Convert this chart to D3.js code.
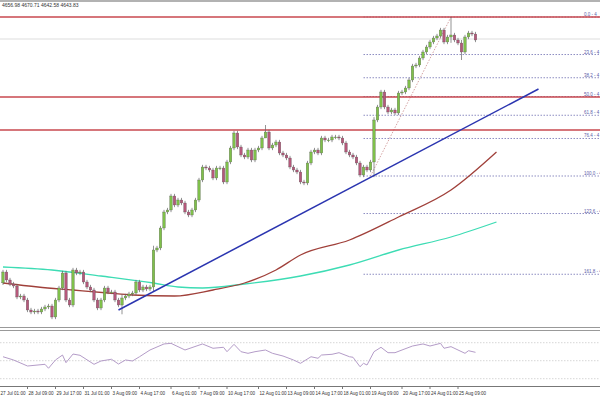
<!DOCTYPE html>
<html>
<head>
<meta charset="utf-8">
<script src="https://cdn.jsdelivr.net/npm/d3@7"></script>
<style>
  body { margin: 0; background: #fff; }
  svg { display: block; font-family: "Liberation Sans", sans-serif; }
</style>
</head>
<body>
<svg id="chart" width="600" height="400"></svg>
<script>
// closes per bar (open = previous close)
const closes = [4491.6,4486,4483.2,4481.8,4474.1,4474.8,4472,4465,4463.6,4464.3,4463.6,4465.7,4467.1,4467.8,4460.1,4472,4480.4,4490.9,4472,4468.5,
  4493,4490.9,4491.6,4484.6,4481.1,4479,4472,4466.4,4472,4480.4,4477.6,4477.6,4472,4468.5,4473.4,4474.8,4476.2,4476.9,4484.6,4479,
  4481.1,4479.7,4481.1,4507,4508.4,4522.4,4533.6,4535,4544.8,4538.5,4542,4539.9,4533.6,4531.5,4535,4542,4556,4565.1,4564.4,4563,
  4557.4,4564.4,4564.4,4554.6,4568.6,4578.4,4588.9,4579.1,4573.5,4572.1,4577,4570,4577,4578.4,4585.4,4589.6,4578.4,4580.5,4582.6,4574.9,
  4573.5,4571.4,4565.1,4563,4561.6,4554.6,4553.9,4567.9,4575.6,4577,4574.9,4585.4,4584,4584,4586.1,4586.1,4585.4,4581.9,4575.6,4573.5,
  4572.1,4567.9,4559.5,4565.1,4563,4568.6,4598,4607.1,4617.6,4607.1,4603.6,4605,4602.9,4616.9,4617.6,4620.4,4626,4635.8,4636.5,4641.4,
  4645.6,4649.1,4652.6,4655.4,4656.8,4661,4652.6,4656.1,4657.5,4654,4651.9,4645.6,4656.1,4658.9,4658.2,4654];
const firstOpen = 4484;
// bars with notable wicks: [index, high, low]
const bigWicks = [[75, 4594.5, 4586], [43, 4510, 4478], [106, 4600, 4558], [128, 4670.1, 4652], [131, 4654, 4640], [34, 4476, 4462]];

// moving averages, [bar index, value]
const maRed = [[0,4483.9],[10,4481.1],[20,4479],[30,4476.9],[37,4475.5],[49,4474.8],[60,4479],[69,4483.9],[78,4493],[85,4503.5],[99,4514],[113,4530.1],[128,4549],[141,4575.6]];
const maTeal = [[0,4495.1],[14,4493],[28,4488.8],[43,4483.9],[50,4481.1],[57,4480.4],[69,4483.2],[85,4488.8],[99,4496.5],[113,4507],[128,4516.1],[141,4526.6]];

const trendLine = [[33, 4465], [153, 4619.7]];
const fibSwing = [[105, 4558.8], [128, 4670.1]];
const resistLevels = [4670.1, 4614.1, 4591];
const lastPrice = 4654.7;
const fibLevels = ["0.0", "23.6", "38.2", "50.0", "61.8", "76.4", "100.0", "123.6", "161.8"];
const fibRatios = [0, 0.236, 0.382, 0.5, 0.618, 0.764, 1, 1.236, 1.618];

const rsi = [[0,54.4],[3,50.8],[7,44.1],[12,46],[13,41.6],[15,50.8],[17,56.3],[18,47.8],[20,57.4],[22,56],[26,46],[28,49.7],[31,51.6],[33,46.3],
  [35,50.8],[37,49.7],[39,54.4],[42,61.9],[46,68.6],[48,69.3],[52,61.9],[57,68.6],[60,63.8],[63,64.9],[64,60],[66,68.2],[68,60],[70,58.2],
  [72,60],[75,61.9],[77,58.2],[80,55.2],[83,50.8],[85,47.1],[88,54.4],[90,52.7],[91,56.3],[94,57.1],[96,58.9],[99,54.4],[100,53.8],[102,43.3],
  [103,47.1],[104,45.2],[106,60],[108,64.9],[110,58.9],[112,58.9],[114,61.9],[117,66.3],[120,68.6],[122,66.3],[125,69.3],[126,63.8],[128,65.6],
  [132,58.2],[133,61.1],[135,59.3]];
const rsiLevels = [70, 50, 30];

const tickIdx = [-1,7,15,23,31,39,48,56,64,73,81,89,97,105,114,122,130];
const tickLabels = ["27 Jul 01:00","28 Jul 09:00","29 Jul 17:00","31 Jul 01:00","3 Aug 09:00","4 Aug 17:00","6 Aug 01:00","7 Aug 09:00",
  "10 Aug 17:00","12 Aug 01:00","13 Aug 09:00","14 Aug 17:00","18 Aug 01:00","19 Aug 09:00","20 Aug 17:00","24 Aug 01:00","25 Aug 09:00"];

const svg = d3.select("#chart");
const x = d3.scaleLinear().domain([0, 170]).range([3, 598]);
const y = d3.scaleLinear().domain([4453.1, 4678.5]).range([327, 5]);
const yR = d3.scaleLinear().domain([30, 70]).range([378.7, 342.7]);

// panel frames
svg.append("line").attr("x1", 0).attr("x2", 600).attr("y1", 1).attr("y2", 1).attr("stroke", "#999").attr("stroke-width", 1.5);
svg.append("line").attr("x1", 0).attr("x2", 600).attr("y1", 327.5).attr("y2", 327.5).attr("stroke", "#999");
svg.append("line").attr("x1", 0).attr("x2", 600).attr("y1", 330.5).attr("y2", 330.5).attr("stroke", "#999");
svg.append("line").attr("x1", 0).attr("x2", 600).attr("y1", 386.5).attr("y2", 386.5).attr("stroke", "#777");

svg.append("text").attr("x", 2).attr("y", 7).attr("font-size", 5).attr("fill", "#333")
  .text("4656.98 4670.71 4642.58 4643.83");

// current price line
svg.append("line").attr("x1", 0).attr("x2", 600).attr("y1", y(lastPrice)).attr("y2", y(lastPrice))
  .attr("stroke", "#ddd");

// fib levels
const fHi = fibSwing[1][1], fLo = fibSwing[0][1];
fibRatios.forEach((r, k) => {
  const yy = y(fHi - r * (fHi - fLo));
  svg.append("line").attr("x1", x(fibSwing[0][0] - 2)).attr("x2", 600).attr("y1", yy).attr("y2", yy)
    .attr("stroke", "#5b5ba8").attr("stroke-width", 0.7).attr("stroke-dasharray", "1.5,1.5");
  svg.append("text").attr("x", 584).attr("y", yy - 1).attr("font-size", 4.5).attr("fill", "#5b5ba8")
    .text(fibLevels[k] + " - 4");
});
svg.append("line").attr("x1", x(fibSwing[0][0])).attr("y1", y(fLo)).attr("x2", x(fibSwing[1][0])).attr("y2", y(fHi))
  .attr("stroke", "#c98a8a").attr("stroke-width", 0.8).attr("stroke-dasharray", "1.5,1.5");

// resistance lines
resistLevels.forEach(p => {
  svg.append("line").attr("x1", 0).attr("x2", 600).attr("y1", y(p)).attr("y2", y(p))
    .attr("stroke", "#c8484f").attr("stroke-width", 1.3);
});

// moving averages
const maLine = d3.line().x(d => x(d[0])).y(d => y(d[1])).curve(d3.curveMonotoneX);
svg.append("path").attr("d", maLine(maTeal)).attr("fill", "none").attr("stroke", "#3ddcb4").attr("stroke-width", 1.3);
svg.append("path").attr("d", maLine(maRed)).attr("fill", "none").attr("stroke", "#a0403a").attr("stroke-width", 1.3);

// candles
const bars = closes.map((c, i) => {
  const o = i === 0 ? firstOpen : closes[i - 1];
  let h = Math.max(o, c) + 1.5, l = Math.min(o, c) - 1.5;
  const w = bigWicks.find(b => b[0] === i);
  if (w) { h = w[1]; l = w[2]; }
  return { i, o, c, h, l };
});
const g = svg.append("g");
g.selectAll("line.wick").data(bars).enter().append("line")
  .attr("x1", d => x(d.i)).attr("x2", d => x(d.i))
  .attr("y1", d => y(d.h)).attr("y2", d => y(d.l))
  .attr("stroke", "#666").attr("stroke-width", 0.7);
g.selectAll("rect").data(bars).enter().append("rect")
  .attr("x", d => x(d.i) - 1.3).attr("width", 2.6)
  .attr("y", d => y(Math.max(d.o, d.c)))
  .attr("height", d => Math.max(0.8, Math.abs(y(d.o) - y(d.c))))
  .attr("fill", d => d.c >= d.o ? "#7fc04a" : "#b5587a")
  .attr("stroke", "#555").attr("stroke-width", 0.3);

// trend line
svg.append("line").attr("x1", x(trendLine[0][0])).attr("y1", y(trendLine[0][1]))
  .attr("x2", x(trendLine[1][0])).attr("y2", y(trendLine[1][1]))
  .attr("stroke", "#2b35b0").attr("stroke-width", 1.5);

// RSI panel
rsiLevels.forEach(v => {
  svg.append("line").attr("x1", 0).attr("x2", 600).attr("y1", yR(v)).attr("y2", yR(v))
    .attr("stroke", "#bbb").attr("stroke-width", 0.6).attr("stroke-dasharray", "1.5,1.5");
});
svg.append("path").attr("d", d3.line().x(d => x(d[0])).y(d => yR(d[1]))(rsi))
  .attr("fill", "none").attr("stroke", "#b49cc8").attr("stroke-width", 1);

// time axis
tickIdx.forEach((t, k) => {
  svg.append("line").attr("x1", x(t)).attr("x2", x(t)).attr("y1", 386).attr("y2", 389).attr("stroke", "#777");
  svg.append("text").attr("x", x(t) + 1).attr("y", 395).attr("font-size", 4.6).attr("fill", "#333").text(tickLabels[k]);
});
</script>
</body>
</html>
